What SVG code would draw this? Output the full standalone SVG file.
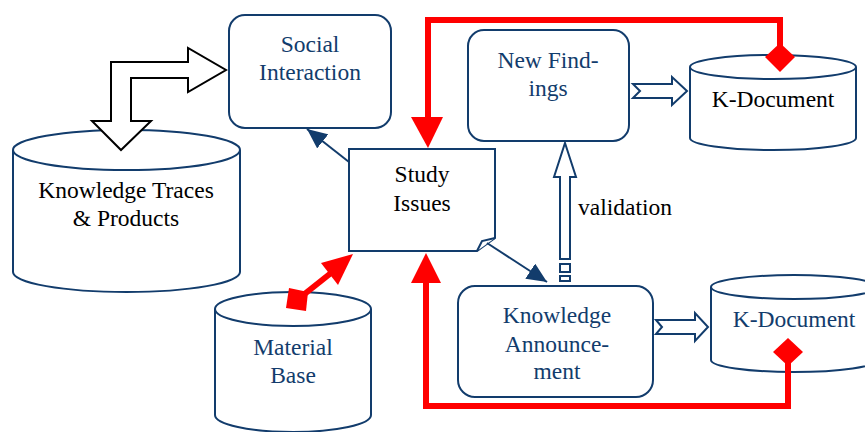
<svg xmlns="http://www.w3.org/2000/svg" width="865" height="432" viewBox="0 0 865 432">
<style>
.shape{fill:#fff;stroke:#123C6C;stroke-width:2}
.hollow{fill:#fff;stroke:#123C6C;stroke-width:2;stroke-linejoin:miter}
.blk{fill:#fff;stroke:#000;stroke-width:2}
.red{fill:none;stroke:#FF0000;stroke-width:6}
.redf{fill:#FF0000;stroke:none}
.nav{fill:none;stroke:#123C6C;stroke-width:2}
.t{font-family:'Liberation Serif','DejaVu Serif',serif;font-size:23.5px;text-anchor:middle}
.tb{fill:#123C6C}
.tk{fill:#000}
</style>
<defs>
<marker id="navHead" viewBox="0 0 20 18" refX="20" refY="9" markerWidth="20" markerHeight="18" markerUnits="userSpaceOnUse" orient="auto">
<path d="M0,0 L20,9 L0,18 Z" fill="#123C6C"/>
</marker>
</defs>

<g id="knowledge-traces">
<path class="shape" d="M13,150 V272 A113.5,20 0 0 0 240,272 V150"/>
<ellipse class="shape" cx="126.5" cy="150" rx="113.5" ry="20"/>
<text class="t tk" font-family="Liberation Serif, DejaVu Serif, serif" x="126" y="198">Knowledge Traces</text>
<text class="t tk" font-family="Liberation Serif, DejaVu Serif, serif" x="126" y="226">&amp; Products</text>
</g>

<g id="social-interaction">
<rect class="shape" x="229" y="15" width="162" height="113" rx="16"/>
<text class="t tb" font-family="Liberation Serif, DejaVu Serif, serif" x="310" y="52">Social</text>
<text class="t tb" font-family="Liberation Serif, DejaVu Serif, serif" x="310" y="80">Interaction</text>
</g>

<g id="new-findings">
<rect class="shape" x="468" y="30" width="161" height="111" rx="16"/>
<text class="t tb" font-family="Liberation Serif, DejaVu Serif, serif" x="548" y="68">New Find-</text>
<text class="t tb" font-family="Liberation Serif, DejaVu Serif, serif" x="548" y="96">ings</text>
</g>

<g id="k-document-top">
<path class="shape" d="M690,67 V138 A83,12 0 0 0 856,138 V67"/>
<ellipse class="shape" cx="773" cy="67" rx="83" ry="12"/>
<text class="t tk" font-family="Liberation Serif, DejaVu Serif, serif" x="773" y="107">K-Document</text>
</g>

<g id="study-issues">
<path class="shape" d="M349,149 H495 V238 L477,251 H349 Z"/>
<path class="shape" d="M477,251 L482,241 L495,238"/>
<text class="t tk" font-family="Liberation Serif, DejaVu Serif, serif" x="422" y="182">Study</text>
<text class="t tk" font-family="Liberation Serif, DejaVu Serif, serif" x="422" y="211">Issues</text>
</g>

<g id="knowledge-announcement">
<rect class="shape" x="458" y="286" width="195" height="111" rx="17"/>
<text class="t tb" font-family="Liberation Serif, DejaVu Serif, serif" x="557" y="323">Knowledge</text>
<text class="t tb" font-family="Liberation Serif, DejaVu Serif, serif" x="557" y="352">Announce-</text>
<text class="t tb" font-family="Liberation Serif, DejaVu Serif, serif" x="557" y="379">ment</text>
</g>

<g id="k-document-bottom">
<path class="shape" d="M711,287 V360 A83,12 0 0 0 877,360 V287"/>
<ellipse class="shape" cx="794" cy="287" rx="83" ry="12"/>
<text class="t tb" font-family="Liberation Serif, DejaVu Serif, serif" x="794" y="327">K-Document</text>
</g>

<g id="material-base">
<path class="shape" d="M215,309 V415 A78,17 0 0 0 371,415 V309"/>
<ellipse class="shape" cx="293" cy="309" rx="78" ry="17"/>
<text class="t tb" font-family="Liberation Serif, DejaVu Serif, serif" x="293" y="355">Material</text>
<text class="t tb" font-family="Liberation Serif, DejaVu Serif, serif" x="293" y="383">Base</text>
</g>

<g id="connectors">
<path class="blk" d="M111,121 L92,121 L121,150 L151,121 L131,121 L131,78 L188,78 L188,92 L226,70 L188,48 L188,62 L111,62 Z"/>
<line class="nav" x1="349" y1="162" x2="307" y2="129" marker-end="url(#navHead)"/>
<line class="nav" x1="487" y1="243" x2="547" y2="282" marker-end="url(#navHead)"/>
<path class="hollow" d="M565,143 L576,177 L570,177 L570,259 L560,259 L560,177 L554,177 Z"/>
<rect class="hollow" x="560" y="264" width="10" height="8"/>
<rect class="hollow" x="560" y="276" width="10" height="5"/>
<text class="t tk" font-family="Liberation Serif, DejaVu Serif, serif" x="625" y="215">validation</text>
<path class="hollow" d="M633,84 L672,84 L672,77 L687,91 L672,105 L672,98 L633,98 L640,91 Z"/>
<path class="hollow" d="M656,320 L695,320 L695,313 L708,327 L695,341 L695,334 L656,334 L662,327 Z"/>
<path class="red" d="M780,46 V20 H428 V118"/>
<polygon class="redf" points="411,117 443,117 428,148"/>
<polygon class="redf" points="780,43 795,57 780,72 765,57"/>
<path class="red" d="M788,362 V406 H426 V282"/>
<polygon class="redf" points="411,283 441,283 426,253"/>
<polygon class="redf" points="788,338 803,352 788,366 773,352"/>
<line class="red" x1="297" y1="300" x2="331" y2="273"/>
<polygon class="redf" points="353,254 321,263 338,285"/>
<polygon class="redf" points="289,288 308,292 306,311 286,308"/>
</g>
</svg>
